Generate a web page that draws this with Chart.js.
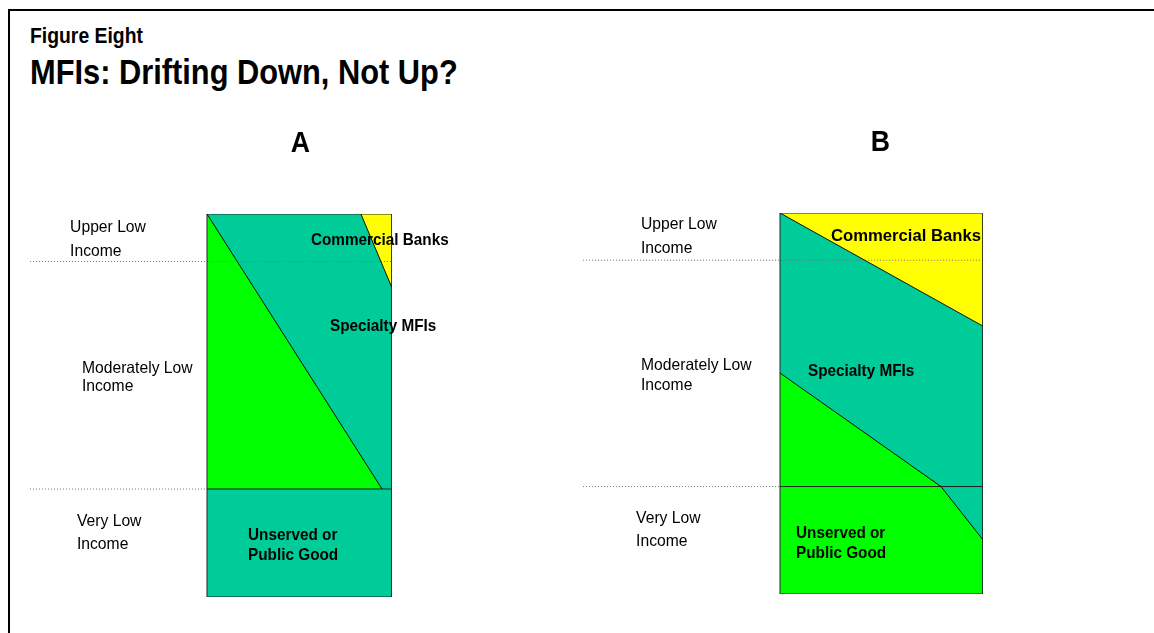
<!DOCTYPE html>
<html lang="en">
<head>
<meta charset="UTF-8">
<title>Figure Eight - MFIs: Drifting Down, Not Up?</title>
<script src="https://cdn.jsdelivr.net/npm/chart.js"></script>
<style>
    body { margin: 0; background: #fff; font-family: 'Liberation Sans', Arial, sans-serif; }
    .page { position: relative; width: 1154px; height: 633px; overflow: hidden; }
    .frame { position: absolute; left: 8px; top: 9px; width: 1200px; height: 700px; border: 2px solid #000; }
    .kicker, .title { position: absolute; left: 30px; line-height: 1; font-weight: bold; white-space: nowrap;
                      transform: scaleX(0.88); transform-origin: left top; }
    .kicker { top: 25px; font-size: 22px; }
    .title { top: 54px; font-size: 35px; }
    canvas { position: absolute; top: 0; }
    #panelA { left: 0; }
    #panelB { left: 577px; }
</style>
</head>
<body>
<div class="page">
    <div class="frame"></div>
    <div class="kicker">Figure Eight</div>
    <div class="title">MFIs: Drifting Down, Not Up?</div>
    <canvas id="panelA" width="577" height="633"></canvas>
    <canvas id="panelB" width="577" height="633"></canvas>
</div>
<script>
    // Income bands, as percent of the panel height (bottom = 0)
    const bandNames = [['Very Low', 'Income'], ['Moderately Low', 'Income'], ['Upper Low', 'Income']];
    const bandEdges = [0, 28.2, 87.6, 100];

    // Panel A: who serves which income level (x = share of market width, %)
    const aMfiEdgeX = [0, 94.6];
    const aMfiEdgeY = [100, 28.2];
    const aBankEdgeX = [83.2, 100];
    const aBankEdgeY = [100, 80.7];

    // Panel B
    const bBankEdgeX = [0, 100];
    const bBankEdgeY = [100, 70.3];
    const bMfiEdgeX = [0, 79.3, 100];
    const bMfiEdgeY = [58.0, 28.2, 14.2];

    const teal = '#00CC99';
    const green = '#00FF00';
    const yellow = '#FFFF00';
    const fontFamily = '"Liberation Sans", Arial, sans-serif';

    function pts(xs, ys) {
        return xs.map((x, i) => ({ x: x, y: ys[i] }));
    }

    function area(data, color, order) {
        return { data: data, backgroundColor: color, borderWidth: 0, fill: 'shape', order: order };
    }

    function stroke(data, color, dash, order) {
        return { data: data, borderColor: color, borderWidth: 1, borderDash: dash || [], fill: false, order: order || 1 };
    }

    // rectangle + band guides shared by both panels
    function frameSets(guideStart) {
        const low = bandEdges[1], upper = bandEdges[2];
        return [
            stroke(pts([guideStart, 100], [upper, upper]), '#777', [1, 2], 2),
            stroke(pts([guideStart, 0], [low, low]), '#777', [1, 2], 2),
            stroke(pts([0, 100], [low, low]), '#222', [], 1),
            stroke(pts([0, 0, 100, 100, 0], [0, 100, 100, 0, 0]), '#222', [], 1)
        ];
    }

    // condensed text, the original uses a narrow face
    function narrowText(ctx, text, px, py, sx) {
        ctx.save();
        ctx.translate(px, py);
        ctx.scale(sx, 1);
        ctx.fillText(text, 0, 0);
        ctx.restore();
    }

    // text drawn at positions on the chart's own scales
    const textPlugin = {
        id: 'panelText',
        afterDraw(chart, args, opts) {
            const { ctx, scales: { x, y }, chartArea } = chart;
            ctx.save();
            ctx.fillStyle = '#000';
            ctx.textBaseline = 'middle';
            ctx.textAlign = 'center';
            ctx.font = 'bold 29px ' + fontFamily;
            narrowText(ctx, opts.letter, x.getPixelForValue(opts.letterX), chartArea.top - 70, 0.92);
            ctx.textAlign = 'left';
            opts.labels.forEach(l => {
                ctx.font = l.bold ? 'bold 17px ' + fontFamily : '16.5px ' + fontFamily;
                const sx = l.sx || (l.bold ? 0.9 : 0.95);
                l.lines.forEach((t, i) => {
                    narrowText(ctx, t, x.getPixelForValue(l.x), y.getPixelForValue(l.y) + i * (l.gap || 0), sx);
                });
            });
            ctx.restore();
        }
    };

    function makePanel(id, areas, lines, guideStart, pad, letter, letterX, labels) {
        new Chart(document.getElementById(id), {
            type: 'scatter',
            data: { datasets: areas.concat(lines, frameSets(guideStart)) },
            options: {
                responsive: false,
                animation: false,
                showLine: true,
                layout: { padding: pad },
                elements: { point: { radius: 0, hoverRadius: 0 }, line: { tension: 0 } },
                scales: {
                    x: { type: 'linear', min: -100, max: 100, display: false },
                    y: { type: 'linear', min: 0, max: 100, display: false }
                },
                plugins: {
                    legend: { display: false },
                    tooltip: { enabled: false },
                    panelText: { letter: letter, letterX: letterX, labels: labels }
                }
            },
            plugins: [textPlugin]
        });
    }

    // Panel A
    makePanel('panelA',
        [
            area(pts([0, 0, 100, 100], [0, 100, 100, 0]), teal, 10),
            area(pts(aMfiEdgeX.concat([0]), aMfiEdgeY.concat([bandEdges[1]])), green, 9),
            area(pts(aBankEdgeX.concat([100]), aBankEdgeY.concat([100])), yellow, 8)
        ],
        [
            stroke(pts(aMfiEdgeX, aMfiEdgeY), '#111'),
            stroke(pts(aBankEdgeX, aBankEdgeY), '#111')
        ],
        -95.7,
        { left: 22, right: 185, top: 214, bottom: 36 },
        'A', 50.5,
        [
            { lines: bandNames[2], x: -74, y: 96.6, gap: 24 },
            { lines: bandNames[1], x: -67.6, y: 59.6, gap: 18 },
            { lines: bandNames[0], x: -70.3, y: 19.8, gap: 23 },
            { lines: ['Commercial Banks'], x: 56.2, y: 93.2, bold: true },
            { lines: ['Specialty MFIs'], x: 66.5, y: 70.8, bold: true },
            { lines: ['Unserved or', 'Public Good'], x: 22.2, y: 16.2, gap: 20, bold: true }
        ]);

    // Panel B
    makePanel('panelB',
        [
            area(pts([0, 0, 100, 100], [0, 100, 100, 0]), teal, 10),
            area(pts(bBankEdgeX.concat([100]), bBankEdgeY.concat([100])), yellow, 9),
            area(pts(bMfiEdgeX.concat([100, 0]), bMfiEdgeY.concat([0, 0])), green, 8)
        ],
        [
            stroke(pts(bBankEdgeX, bBankEdgeY), '#111'),
            stroke(pts(bMfiEdgeX, bMfiEdgeY), '#111')
        ],
        -97,
        { left: 0, right: 171, top: 213, bottom: 39 },
        'B', 49.5,
        [
            { lines: bandNames[2], x: -68.5, y: 97.1, gap: 24 },
            { lines: bandNames[1], x: -68.5, y: 60.1, gap: 20 },
            { lines: bandNames[0], x: -70.9, y: 19.9, gap: 23 },
            { lines: ['Commercial Banks'], x: 25.1, y: 94.0, bold: true, sx: 0.98 },
            { lines: ['Specialty MFIs'], x: 13.8, y: 58.5, bold: true },
            { lines: ['Unserved or', 'Public Good'], x: 7.9, y: 16.0, gap: 20, bold: true }
        ]);
</script>
</body>
</html>
